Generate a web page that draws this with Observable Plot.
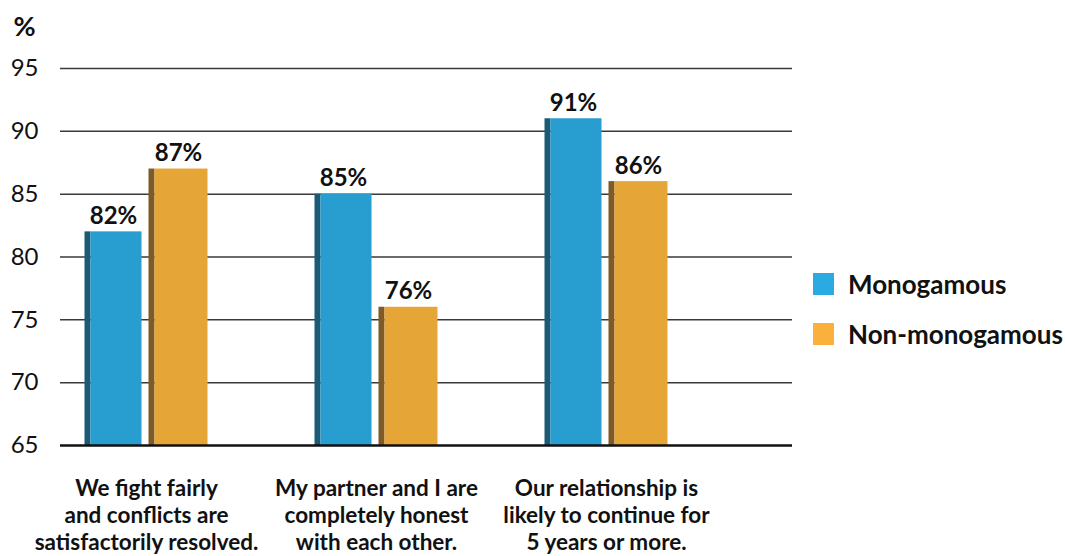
<!DOCTYPE html>
<html>
<head>
<meta charset="utf-8">
<script src="https://cdn.jsdelivr.net/npm/d3@7"></script>
<script src="https://cdn.jsdelivr.net/npm/@observablehq/plot@0.6"></script>
<style>
  html, body { margin: 0; padding: 0; background: #fff; }
  #wrap { position: relative; width: 1065px; height: 556px; overflow: hidden; font-family: Lato, "Open Sans", sans-serif; }
  #legend { position: absolute; left: 813px; top: 259px; }
  .item { display: flex; align-items: center; height: 50px; font-weight: bold; font-size: 26px; color: #111; }
  .sw { width: 21px; height: 22px; margin-right: 14px; }
</style>
</head>
<body>
<div id="wrap"><div id="chart"></div><div id="legend"></div></div>
<script>
const categories = [
  "We fight fairly\nand conflicts are\nsatisfactorily resolved.",
  "My partner and I are\ncompletely honest\nwith each other.",
  "Our relationship is\nlikely to continue for\n5 years or more."
];
const seriesNames = ["Monogamous", "Non-monogamous"];
const monogamous = [82, 85, 91];
const nonMonogamous = [87, 76, 86];
const yTicks = [65, 70, 75, 80, 85, 90, 95];

const frontColors = {"Monogamous": "#279dd0", "Non-monogamous": "#e6a537"};
const sideColors = {"Monogamous": "#1b5a77", "Non-monogamous": "#7e5a27"};
const legendColors = ["#29abe2", "#fbb03b"];

const mono = categories.map((c, i) => ({category: c, series: seriesNames[0], value: monogamous[i]}));
const non = categories.map((c, i) => ({category: c, series: seriesNames[1], value: nonMonogamous[i]}));

const BAND = 230;
function bar(data, left, right, fill) {
  return Plot.barY(data, {x: "category", y1: 65, y2: "value", fill, insetLeft: left, insetRight: BAND - right});
}

const chart = Plot.plot({
  width: 800,
  height: 556,
  marginLeft: 60,
  marginRight: 8,
  marginTop: 68,
  marginBottom: 111,
  style: {fontFamily: "Lato, 'Open Sans', sans-serif", background: "transparent", color: "#111"},
  x: {domain: categories, range: [30.5, 720.5], padding: 0},
  y: {domain: [65, 95]},
  marks: [
    Plot.ruleY(yTicks.filter(t => t > 65), {stroke: "#3a3a3a", strokeWidth: 1.5}),
    bar(mono, 53.5, 59.5, sideColors["Monogamous"]),
    bar(mono, 59.5, 110.5, frontColors["Monogamous"]),
    bar(non, 117.5, 123.5, sideColors["Non-monogamous"]),
    bar(non, 123.5, 176.5, frontColors["Non-monogamous"]),
    Plot.ruleY([65], {stroke: "#111", strokeWidth: 2.5}),
    Plot.axisY(yTicks, {tickSize: 0, tickPadding: 22, fontSize: 24, label: null}),
    Plot.axisX({tickSize: 0, tickPadding: 31, fontSize: 22.5, fontWeight: "bold", lineHeight: 1.2, label: null}),
    Plot.text(mono, {x: "category", y: "value", text: d => d.value + "%", dx: -33, dy: -8, lineAnchor: "bottom", fontSize: 24, fontWeight: "bold"}),
    Plot.text(non, {x: "category", y: "value", text: d => d.value + "%", dx: 32, dy: -8, lineAnchor: "bottom", fontSize: 24, fontWeight: "bold"}),
    Plot.text(["%"], {frameAnchor: "top-left", text: d => d, dx: -47, dy: -52, textAnchor: "start", fontSize: 27, fontWeight: "bold"})
  ]
});
document.getElementById("chart").appendChild(chart);

const legend = document.getElementById("legend");
seriesNames.forEach((name, i) => {
  const item = document.createElement("div");
  item.className = "item";
  const sw = document.createElement("div");
  sw.className = "sw";
  sw.style.background = legendColors[i];
  const label = document.createElement("span");
  label.textContent = name;
  item.appendChild(sw);
  item.appendChild(label);
  legend.appendChild(item);
});
</script>
</body>
</html>
